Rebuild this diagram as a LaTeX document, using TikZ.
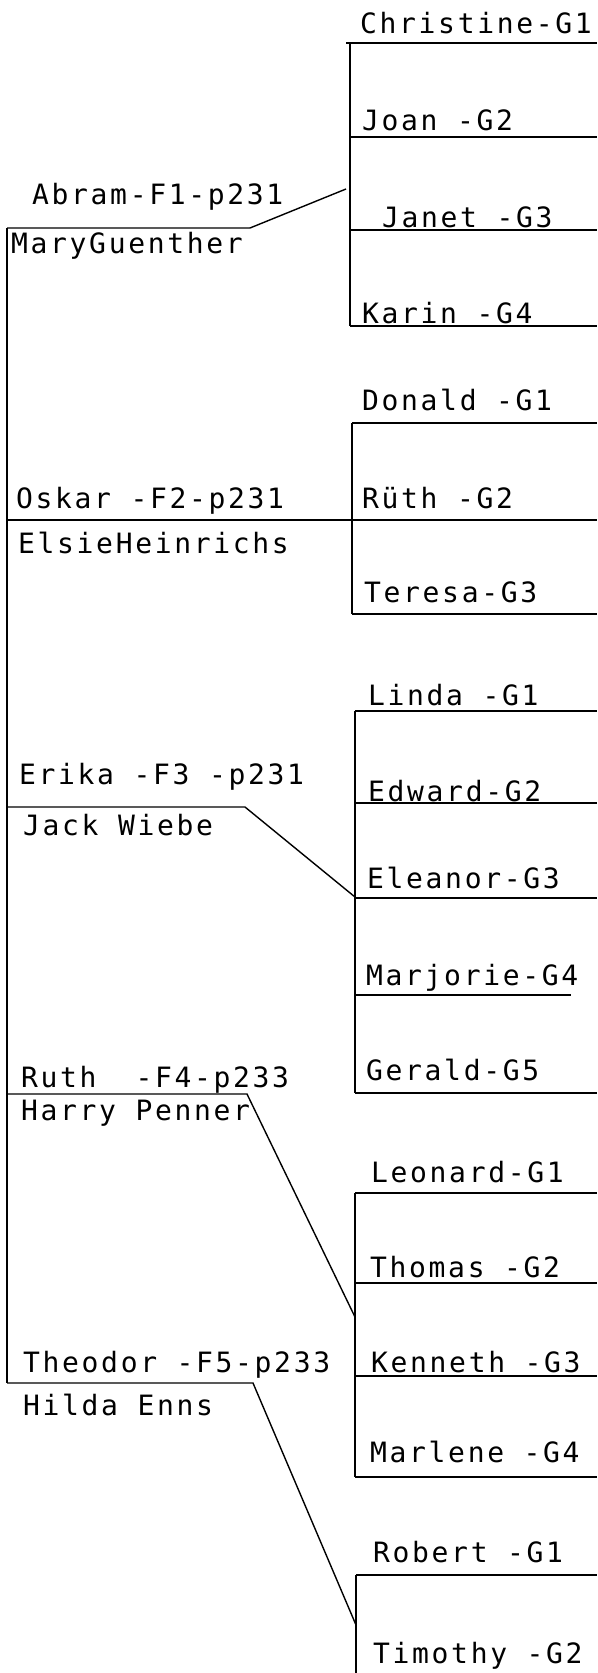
\documentclass[tikz,border=0pt]{standalone}
\usepackage{fontspec}
\newfontfamily\plotfont[LetterSpace=9.5]{DejaVu Sans Mono}
\begin{document}
\begin{tikzpicture}[x=1pt,y=-1pt,
  lbl/.style={anchor=base west, inner sep=0pt, font=\plotfont\fontsize{28}{28}\selectfont},
  ln/.style={line width=1.4pt, line cap=butt}]
\useasboundingbox (0,0) rectangle (597,1673);
% ---------- left spine ----------
\coordinate (Ltop) at (7,228);
\coordinate (Lbot) at (7,1383);
\draw[ln] (Ltop) -- (Lbot);
% ---------- group 1 : Abram ----------
\coordinate (A2) at (250,228);
\coordinate (A3) at (346,189);
\draw[ln] (Ltop) -- (A2) -- (A3);
\node[lbl] (abram) at (32,204) {Abram-F1-p231};
\node[lbl] (mary) at (11,253) {MaryGuenther};
\coordinate (V1t) at (350,43);
\coordinate (V1b) at (350,326);
\draw[ln] (V1t) -- (V1b);
\coordinate (c1a) at (346,43);  \coordinate (c1b) at (597,43);
\coordinate (c2a) at (350,137); \coordinate (c2b) at (597,137);
\coordinate (c3a) at (350,230); \coordinate (c3b) at (597,230);
\coordinate (c4b) at (597,326);
\draw[ln] (c1a) -- (c1b);
\draw[ln] (c2a) -- (c2b);
\draw[ln] (c3a) -- (c3b);
\draw[ln] (V1b) -- (c4b);
\node[lbl] (christine) at (360,33) {Christine-G1};
\node[lbl] (joan) at (362,130) {Joan~-G2};
\node[lbl] (janet) at (382,227) {Janet~-G3};
\node[lbl] (karin) at (362,323) {Karin~-G4};
% ---------- group 2 : Oskar ----------
\coordinate (O1) at (7,520);
\coordinate (O2) at (597,520);
\draw[ln] (O1) -- (O2);
\node[lbl] (oskar) at (16,508) {Oskar~-F2-p231};
\node[lbl] (elsie) at (18,553) {ElsieHeinrichs};
\coordinate (V2t) at (352,423);
\coordinate (V2b) at (352,614);
\draw[ln] (V2t) -- (V2b);
\coordinate (d1b) at (597,423);
\coordinate (d3b) at (597,614);
\draw[ln] (V2t) -- (d1b);
\draw[ln] (V2b) -- (d3b);
\node[lbl] (donald) at (362,410) {Donald~-G1};
\node[lbl] (ruthg) at (362,508) {Rüth~-G2};
\node[lbl] (teresa) at (364,602) {Teresa-G3};
% ---------- group 3 : Erika ----------
\coordinate (E1) at (7,807);
\coordinate (E2) at (245,807);
\coordinate (E3) at (355,897);
\draw[ln] (E1) -- (E2) -- (E3);
\node[lbl] (erika) at (19,784) {Erika~-F3~-p231};
\node[lbl] (jack) at (23,835) {Jack~Wiebe};
\coordinate (V3t) at (355,711);
\coordinate (V3b) at (355,1093);
\draw[ln] (V3t) -- (V3b);
\coordinate (e1b) at (597,711);
\coordinate (e2a) at (355,803); \coordinate (e2b) at (597,803);
\coordinate (e3a) at (355,898); \coordinate (e3b) at (597,898);
\coordinate (e4a) at (355,995); \coordinate (e4b) at (571,995);
\coordinate (e5b) at (597,1093);
\draw[ln] (V3t) -- (e1b);
\draw[ln] (e2a) -- (e2b);
\draw[ln] (e3a) -- (e3b);
\draw[ln] (e4a) -- (e4b);
\draw[ln] (V3b) -- (e5b);
\node[lbl] (linda) at (368,705) {Linda~-G1};
\node[lbl] (edward) at (368,801) {Edward-G2};
\node[lbl] (eleanor) at (367,888) {Eleanor-G3};
\node[lbl] (marjorie) at (366,985) {Marjorie-G4};
\node[lbl] (gerald) at (366,1080) {Gerald-G5};
% ---------- group 4 : Ruth ----------
\coordinate (R1) at (7,1094);
\coordinate (R2) at (247,1094);
\coordinate (R3) at (355,1317);
\draw[ln] (R1) -- (R2) -- (R3);
\node[lbl] (ruth) at (21,1087) {Ruth~~-F4-p233};
\node[lbl] (harry) at (21,1120) {Harry~Penner};
\coordinate (V4t) at (355,1193);
\coordinate (V4b) at (355,1477);
\draw[ln] (V4t) -- (V4b);
\coordinate (f1b) at (597,1193);
\coordinate (f2a) at (355,1283); \coordinate (f2b) at (597,1283);
\coordinate (f3a) at (355,1376); \coordinate (f3b) at (597,1376);
\coordinate (f4b) at (597,1477);
\draw[ln] (V4t) -- (f1b);
\draw[ln] (f2a) -- (f2b);
\draw[ln] (f3a) -- (f3b);
\draw[ln] (V4b) -- (f4b);
\node[lbl] (leonard) at (371,1182) {Leonard-G1};
\node[lbl] (thomas) at (370,1277) {Thomas~-G2};
\node[lbl] (kenneth) at (371,1372) {Kenneth~-G3};
\node[lbl] (marlene) at (370,1462) {Marlene~-G4};
% ---------- group 5 : Theodor ----------
\coordinate (T2) at (253,1383);
\coordinate (T3) at (356,1625);
\draw[ln] (Lbot) -- (T2) -- (T3);
\node[lbl] (theodor) at (23,1372) {Theodor~-F5-p233};
\node[lbl] (hilda) at (23,1415) {Hilda~Enns};
\coordinate (V5t) at (356,1575);
\coordinate (V5b) at (356,1673);
\draw[ln] (V5t) -- (V5b);
\coordinate (g1b) at (597,1575);
\draw[ln] (V5t) -- (g1b);
\node[lbl] (robert) at (373,1562) {Robert~-G1};
\node[lbl] (timothy) at (373,1663) {Timothy~-G2};
\end{tikzpicture}
\end{document}
